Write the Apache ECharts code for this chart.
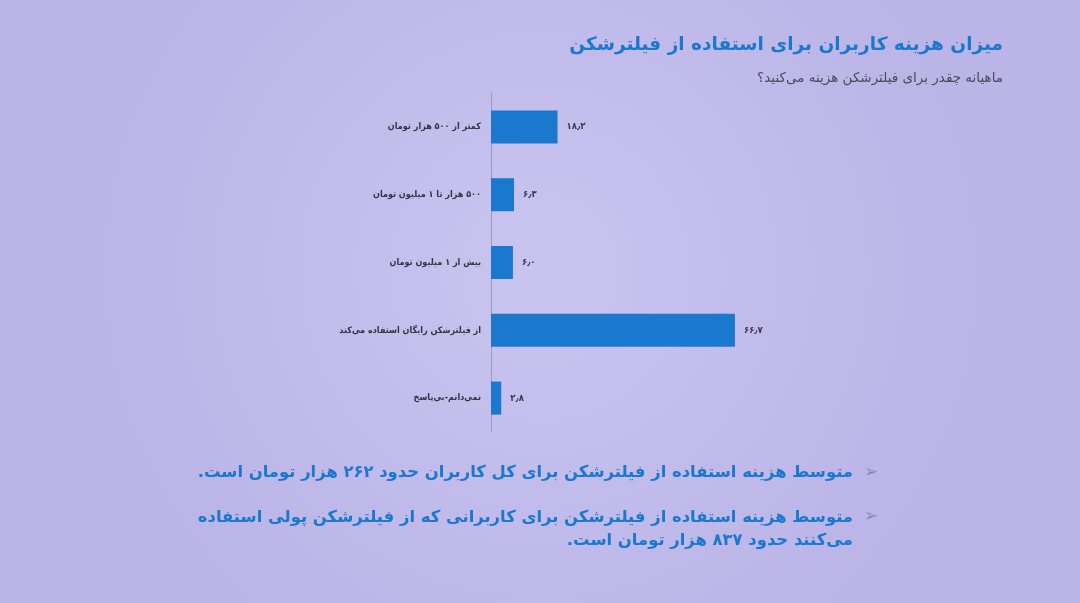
<!DOCTYPE html>
<html>
<head>
<meta charset="utf-8">
<script src="https://cdn.jsdelivr.net/npm/echarts@6/dist/echarts.min.js"></script>
<style>
html,body{margin:0;padding:0;background:#c3bdeb;}
#chart{width:1080px;height:603px;}
</style>
</head>
<body>
<div id="chart"></div>
<script>
const categories = [
  'کمتر از ۵۰۰ هزار تومان',
  '۵۰۰ هزار تا ۱ میلیون تومان',
  'بیش از ۱ میلیون تومان',
  'از فیلترشکن رایگان استفاده می‌کند',
  'نمی‌دانم-بی‌پاسخ'
];
const values = [18.2, 6.3, 6.0, 66.7, 2.8];
const titleText = 'میزان هزینه کاربران برای استفاده از فیلترشکن';
const subtitleText = 'ماهیانه چقدر برای فیلترشکن هزینه می‌کنید؟';
const bullet1 = 'متوسط هزینه استفاده از فیلترشکن برای کل کاربران حدود ۲۶۲ هزار تومان است.';
const bullet2a = 'متوسط هزینه استفاده از فیلترشکن برای کاربرانی که از فیلترشکن پولی استفاده';
const bullet2b = 'می‌کنند حدود ۸۳۷ هزار تومان است.';

const RTL = s => '\u202B' + s + '\u202C';
const faDigits = s => String(s).replace(/[0-9]/g, d => '۰۱۲۳۴۵۶۷۸۹'[d]).replace('.', '٫');
const FONT = 'DejaVu Sans';
const FONTC = 'DejaVu Sans Condensed';
const BLUE = '#1a78cf';

const chart = echarts.init(document.getElementById('chart'), null, {renderer: 'canvas'});
chart.setOption({
  backgroundColor: 'transparent',
  animation: false,
  grid: {left: 491, right: 333, top: 93, bottom: 171, containLabel: false},
  xAxis: {
    type: 'value', min: 0, max: 70,
    show: false
  },
  yAxis: {
    type: 'category', data: categories, inverse: true,
    axisLine: {show: true, lineStyle: {color: '#9c99bf', width: 1}},
    axisTick: {show: false},
    axisLabel: {
      margin: 10, color: '#333344', fontFamily: FONTC, fontSize: 9, fontWeight: 'bold',
      formatter: v => RTL(v)
    },
    splitLine: {show: false}
  },
  series: [{
    type: 'bar', data: values, barWidth: 33,
    itemStyle: {color: BLUE},
    label: {
      show: true, position: 'right', distance: 9,
      color: '#3a3a50', fontFamily: FONTC, fontSize: 9.5, fontWeight: 'bold',
      formatter: p => faDigits(p.value.toFixed(1))
    }
  }],
  graphic: [
    {
      type: 'rect', z: -10, silent: true,
      shape: {x: 0, y: 0, width: 1080, height: 603},
      style: {fill: new echarts.graphic.RadialGradient(0.5, 0.45, 0.75, [
        {offset: 0, color: '#c9c4ef'}, {offset: 1, color: '#bab4e7'}
      ])}
    },
    {
      type: 'text', x: 1003, y: 45,
      style: {text: RTL(titleText), align: 'right', verticalAlign: 'middle',
        fill: BLUE, font: 'bold 18.5px "' + FONT + '"'}
    },
    {
      type: 'text', x: 1003, y: 78,
      style: {text: RTL(subtitleText), align: 'right', verticalAlign: 'middle',
        fill: '#4a4a5a', font: '13.5px "' + FONT + '"'}
    },
    {
      type: 'text', x: 871, y: 473,
      style: {text: '➢', align: 'center', verticalAlign: 'middle', fill: '#7f8fb0', font: '17px "' + FONT + '"'}
    },
    {
      type: 'text', x: 871, y: 517,
      style: {text: '➢', align: 'center', verticalAlign: 'middle', fill: '#7f8fb0', font: '17px "' + FONT + '"'}
    },
    {
      type: 'text', x: 853, y: 473,
      style: {text: RTL(bullet1), align: 'right', verticalAlign: 'middle',
        fill: BLUE, font: 'bold 16.4px "' + FONT + '"'}
    },
    {
      type: 'text', x: 853, y: 518,
      style: {text: RTL(bullet2a), align: 'right', verticalAlign: 'middle',
        fill: BLUE, font: 'bold 16.4px "' + FONT + '"'}
    },
    {
      type: 'text', x: 853, y: 541,
      style: {text: RTL(bullet2b), align: 'right', verticalAlign: 'middle',
        fill: BLUE, font: 'bold 16.4px "' + FONT + '"'}
    }
  ]
});
</script>
</body>
</html>
